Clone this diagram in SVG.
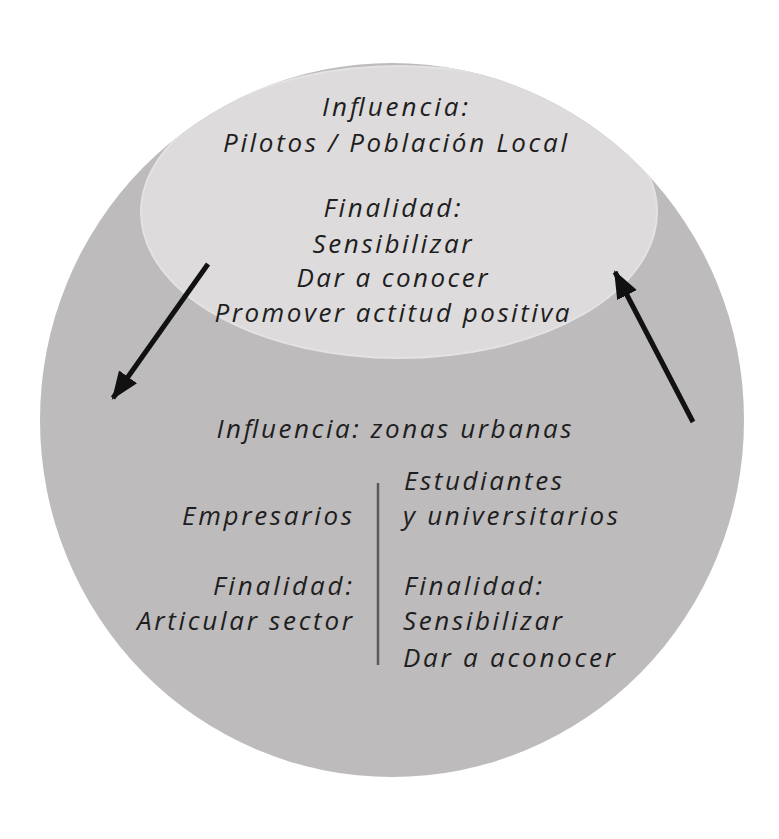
<svg xmlns="http://www.w3.org/2000/svg" width="779" height="839" viewBox="0 0 779 839">
<style>
.t{font-family:"Open Sans","Liberation Sans",sans-serif;font-style:italic;font-size:26px;font-weight:500;fill:#1e1e1e}
.m{text-anchor:middle}
.e{text-anchor:end}
.arr{stroke:#111;stroke-width:5;fill:none}
</style>
<defs>
<clipPath id="cc"><ellipse cx="392" cy="420" rx="352" ry="357"/></clipPath>
<marker id="ah" markerUnits="userSpaceOnUse" markerWidth="30" markerHeight="30" viewBox="0 0 30 30" refX="26" refY="15" orient="auto">
<path d="M0,4 L28,15 L0,26 Z" fill="#111"/>
</marker>
</defs>
<rect width="779" height="839" fill="#ffffff"/>
<g id="outer">
<ellipse cx="392" cy="420" rx="352" ry="357" fill="#bdbbbc"/>
</g>
<g id="inner">
<ellipse cx="399" cy="212" rx="258" ry="146" fill="#dddbdc" stroke="#e4e2e3" stroke-width="2" clip-path="url(#cc)"/>
<text class="t m" x="395" y="116" textLength="146" lengthAdjust="spacing">Influencia:</text>
<text class="t m" x="395" y="152" textLength="344" lengthAdjust="spacing">Pilotos / Población Local</text>
<text class="t m" x="392" y="217" textLength="137" lengthAdjust="spacing">Finalidad:</text>
<text class="t m" x="392" y="253" textLength="159" lengthAdjust="spacing">Sensibilizar</text>
<text class="t m" x="392" y="287" textLength="191" lengthAdjust="spacing">Dar a conocer</text>
<text class="t m" x="392" y="322" textLength="355" lengthAdjust="spacing">Promover actitud positiva</text>
</g>
<g id="urban">
<text class="t m" x="394" y="438" textLength="355" lengthAdjust="spacing">Influencia: zonas urbanas</text>
<line x1="378" y1="483" x2="378" y2="665" stroke="#5a5a5a" stroke-width="2.5"/>
</g>
<g id="empresarios">
<text class="t e" x="352" y="525" textLength="170" lengthAdjust="spacing">Empresarios</text>
<text class="t e" x="352" y="595" textLength="139" lengthAdjust="spacing">Finalidad:</text>
<text class="t e" x="352" y="630" textLength="215" lengthAdjust="spacing">Articular sector</text>
</g>
<g id="estudiantes">
<text class="t" x="404" y="490" textLength="158" lengthAdjust="spacing">Estudiantes</text>
<text class="t" x="403" y="525" textLength="215" lengthAdjust="spacing">y universitarios</text>
<text class="t" x="404" y="595" textLength="138" lengthAdjust="spacing">Finalidad:</text>
<text class="t" x="403" y="630" textLength="159" lengthAdjust="spacing">Sensibilizar</text>
<text class="t" x="403" y="667" textLength="212" lengthAdjust="spacing">Dar a aconocer</text>
</g>
<g id="connectors">
<line class="arr" x1="208" y1="264" x2="113" y2="398" marker-end="url(#ah)"/>
<line class="arr" x1="693" y1="422" x2="615" y2="272" marker-end="url(#ah)"/>
</g>
</svg>
